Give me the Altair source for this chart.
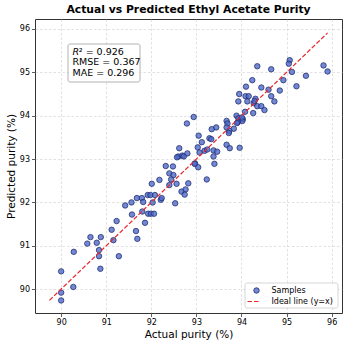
import altair as alt
import pandas as pd

# ---- data ----
actual = [
    90.00, 90.00, 90.00, 90.27, 90.28, 90.58, 90.65, 90.79, 90.88, 90.84,
    90.84, 90.87, 91.12, 91.16, 91.23, 91.28, 91.66, 91.69,
    91.42, 91.56, 91.57, 91.68, 91.79, 91.82, 91.80, 91.86, 91.92, 91.98,
    92.08, 92.03, 91.93, 91.99, 92.06, 92.21, 92.23, 92.01, 92.18, 92.32,
    92.48, 92.40, 92.49, 92.44, 92.40, 92.56, 92.53, 92.67, 92.76, 92.74,
    92.82, 92.97, 93.04, 93.23,
    92.94, 92.79, 93.05, 93.29, 93.33, 93.12, 93.03, 93.18, 93.24, 93.07,
    93.38, 93.46, 93.38, 93.40, 92.62, 92.60, 92.69, 92.80, 92.72, 92.57,
    92.96, 93.44, 93.34,
    94.35, 94.66, 95.07, 95.05, 95.12, 95.82, 95.91, 95.43, 95.22, 94.93,
    94.85, 94.60, 94.44, 94.24, 94.10, 93.95, 93.93, 94.09, 94.16, 94.13,
    94.31, 94.27, 94.35, 94.44, 94.51, 94.66, 94.73, 94.26, 94.08, 93.89,
    93.93, 94.03, 94.02, 93.92, 93.67, 93.69, 93.67, 93.83, 93.73, 93.72,
    93.67, 93.74, 93.96, 93.90, 94.29, 94.01,
]
predicted = [
    90.41, 89.92, 89.74, 90.05, 90.86, 91.05, 91.20, 91.07, 91.20, 90.90,
    90.76, 90.47, 91.37, 91.13, 91.57, 90.76, 91.34, 91.16,
    91.93, 92.00, 91.72, 92.10, 92.10, 92.01, 91.79, 91.53, 92.17, 92.17,
    92.17, 92.00, 91.74, 91.74, 91.74, 92.06, 92.10, 92.43, 92.52, 92.84,
    92.83, 92.67, 92.63, 92.53, 92.40, 92.43, 91.98, 92.25, 92.30, 92.18,
    92.44, 92.90, 92.81, 92.53,
    93.97, 93.82, 93.54, 93.48, 93.46, 93.39, 93.27, 93.19, 93.22, 93.15,
    93.20, 93.17, 93.06, 92.89, 93.25, 93.06, 93.08, 93.13, 93.06, 93.04,
    92.89, 93.73, 93.69,
    95.14, 95.07, 95.28, 95.20, 95.01, 95.16, 95.02, 94.92, 94.68, 94.82,
    94.58, 94.60, 94.65, 94.82, 94.67, 94.50, 94.33, 94.45, 94.45, 94.33,
    94.39, 94.29, 94.22, 94.22, 94.13, 94.45, 94.33, 94.06, 94.09, 94.00,
    93.94, 93.92, 93.88, 93.85, 93.88, 93.82, 93.73, 93.70, 93.65, 93.60,
    93.33, 93.25, 93.26, 93.83, 94.34, 93.96,
]
ideal_line = [89.74, 95.91]
ticks = [90, 91, 92, 93, 94, 95, 96]
stats_lines = ["RMSE = 0.367", "MAE = 0.296"]
r2_text = "² = 0.926"
legend_labels = ["Samples", "Ideal line (y=x)"]

FONT = "DejaVu Sans"
W, H = 307, 294
xdom = [89.42, 96.23]
ydom = [89.45, 96.23]

df = pd.DataFrame({"actual": actual, "predicted": predicted})
line_df = pd.DataFrame({"v": ideal_line})

xs = alt.Scale(domain=xdom, nice=False, zero=False)
ys = alt.Scale(domain=ydom, nice=False, zero=False)

xaxis = alt.Axis(values=ticks, format="d", title="Actual purity (%)", grid=True)
yaxis = alt.Axis(values=ticks, format="d", title="Predicted purity (%)", grid=True)

points = alt.Chart(df).mark_circle(
    size=30, fill="#4a66c8", fillOpacity=0.78, stroke="#1f2a6b",
    strokeWidth=0.8, strokeOpacity=0.95,
).encode(
    x=alt.X("actual:Q", scale=xs, axis=xaxis),
    y=alt.Y("predicted:Q", scale=ys, axis=yaxis),
)

line = alt.Chart(line_df).mark_line(
    color="#e8262b", strokeWidth=1.2, strokeDash=[4.5, 2]
).encode(
    x=alt.X("v:Q", scale=xs),
    y=alt.Y("v:Q", scale=ys),
)

one = pd.DataFrame({"a": [0]})

# stats box
stats_box = alt.Chart(one).mark_rect(
    fill="white", fillOpacity=0.85, stroke="#a0a0a0", strokeWidth=0.8, cornerRadius=2
).encode(x=alt.value(33), x2=alt.value(105), y=alt.value(25), y2=alt.value(63))

r_text = alt.Chart(one).mark_text(
    text="R", font=FONT, fontSize=9.5, fontStyle="italic", align="left",
    baseline="middle", color="black"
).encode(x=alt.value(37.5), y=alt.value(32.5))
r2_rest = alt.Chart(one).mark_text(
    text=r2_text, font=FONT, fontSize=9.5, align="left", baseline="middle", color="black"
).encode(x=alt.value(43.8), y=alt.value(32.5))
s1 = alt.Chart(one).mark_text(
    text=stats_lines[0], font=FONT, fontSize=9.5, align="left", baseline="middle", color="black"
).encode(x=alt.value(37.5), y=alt.value(43.3))
s2 = alt.Chart(one).mark_text(
    text=stats_lines[1], font=FONT, fontSize=9.5, align="left", baseline="middle", color="black"
).encode(x=alt.value(37.5), y=alt.value(53.8))

# legend
leg_box = alt.Chart(one).mark_rect(
    fill="white", fillOpacity=0.85, stroke="#cccccc", strokeWidth=0.8, cornerRadius=2
).encode(x=alt.value(210), x2=alt.value(303), y=alt.value(264), y2=alt.value(289))
leg_pt = alt.Chart(one).mark_circle(
    size=30, fill="#4a66c8", fillOpacity=0.78, stroke="#1f2a6b", strokeWidth=0.8
).encode(x=alt.value(221.5), y=alt.value(271.5))
leg_ln = alt.Chart(one).mark_rule(
    color="#e8262b", strokeWidth=1.2, strokeDash=[4.5, 2]
).encode(x=alt.value(212.5), x2=alt.value(224), y=alt.value(282.5))
leg_t1 = alt.Chart(one).mark_text(
    text=legend_labels[0], font=FONT, fontSize=8, align="left", baseline="middle", color="black"
).encode(x=alt.value(236.5), y=alt.value(271.5))
leg_t2 = alt.Chart(one).mark_text(
    text=legend_labels[1], font=FONT, fontSize=8, align="left", baseline="middle", color="black"
).encode(x=alt.value(236.5), y=alt.value(282.5))

chart = alt.layer(
    points, line, stats_box, r_text, r2_rest, s1, s2,
    leg_box, leg_pt, leg_ln, leg_t1, leg_t2,
).properties(
    width=W, height=H,
    title=alt.TitleParams(
        "Actual vs Predicted Ethyl Acetate Purity", font=FONT, fontSize=10.8,
        fontWeight="bold", anchor="middle", offset=4, color="black",
    ),
    autosize=alt.AutoSizeParams(type="none"),
    padding={"left": 35, "top": 19, "right": 13, "bottom": 33},
).configure_view(
    stroke="#333333", strokeWidth=1
).configure_axis(
    labelFont=FONT, titleFont=FONT, labelFontSize=8, titleFontSize=10.5,
    labelColor="black", titleColor="black", titleFontWeight="normal",
    tickColor="#333333", tickSize=3.5, tickWidth=0.8, labelPadding=2,
    domain=False, gridColor="#cccccc", gridDash=[2.5, 2], gridWidth=0.6,
).configure_axisX(titlePadding=3).configure_axisY(titlePadding=3)

chart.save("out.html", embed_options={"renderer": "svg", "actions": False})
